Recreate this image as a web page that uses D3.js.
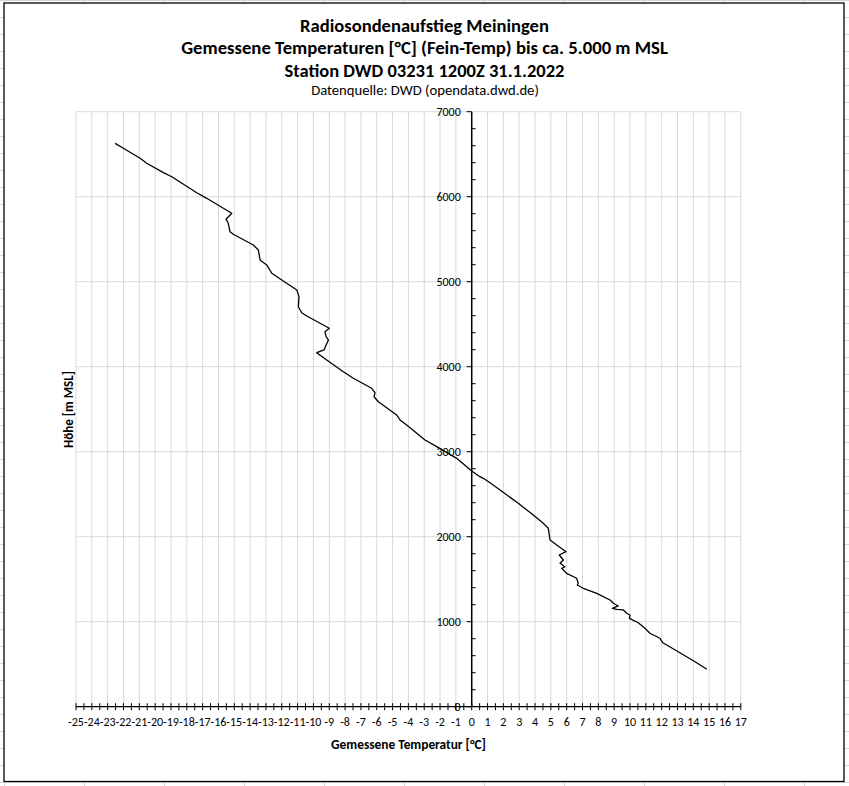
<!DOCTYPE html>
<html><head><meta charset="utf-8">
<script src="https://cdn.jsdelivr.net/npm/d3@7/dist/d3.min.js"></script>
<style>body{margin:0;background:#fff}svg{display:block}</style>
</head><body>
<svg id="c" width="849" height="786"></svg>
<script>
// ---- data ----
const heights = [6628,6570,6452,6393,6283,6235,6047,5981,5864,5805,5734,5687,5588,5558,5432,5373,5255,5197,5099,5020,4902,4824,4706,4635,4597,4452,4412,4353,4314,4255,4197,4165,4079,3941,3864,3746,3694,3647,3588,3432,3373,3314,3138,3059,2922,2773,2706,2687,2635,2549,2393,2255,2158,2099,2020,1961,1902,1824,1785,1726,1687,1647,1628,1569,1511,1452,1432,1393,1334,1255,1217,1185,1158,1146,1138,1099,1079,1040,988,922,864,805,753,726,588,529,440];
const temps = [-22.53,-22.01,-20.95,-20.53,-19.48,-18.95,-17.37,-16.74,-15.69,-15.16,-15.52,-15.38,-15.27,-15.06,-13.80,-13.48,-13.37,-12.95,-12.63,-12.00,-11.05,-10.91,-10.95,-10.74,-10.42,-9.00,-9.27,-9.20,-9.05,-9.20,-9.33,-9.79,-9.16,-8.11,-7.48,-6.32,-6.11,-6.17,-5.90,-4.74,-4.53,-4.11,-2.95,-2.21,-0.95,0.00,0.52,0.73,1.16,1.79,2.94,3.89,4.52,4.84,4.90,4.95,5.37,5.96,5.53,5.79,5.58,5.89,5.69,6.00,6.63,6.73,6.67,7.05,7.90,8.74,8.95,9.26,8.88,9.16,9.58,9.79,10.00,9.96,10.52,10.95,11.26,11.89,12.07,12.32,13.58,14.11,14.85];
const xTickValues = [-25,-24,-23,-22,-21,-20,-19,-18,-17,-16,-15,-14,-13,-12,-11,-10,-9,-8,-7,-6,-5,-4,-3,-2,-1,0,1,2,3,4,5,6,7,8,9,10,11,12,13,14,15,16,17];
const yTickValues = [0,1000,2000,3000,4000,5000,6000,7000];
const titleLines = ["Radiosondenaufstieg Meiningen","Gemessene Temperaturen [°C] (Fein-Temp) bis ca. 5.000 m MSL","Station DWD 03231 1200Z 31.1.2022"];
const subtitle = "Datenquelle: DWD (opendata.dwd.de)";
const xTitle = "Gemessene Temperatur [°C]";
const yTitle = "Höhe [m MSL]";

// ---- drawing ----
const svg = d3.select("#c");
const FONT = "Carlito, 'Liberation Sans', Arial, sans-serif";
const W = 849, H = 786;

// spreadsheet grid behind the chart object
const bg = svg.append("g").attr("stroke", "#d6d6d6").attr("stroke-width", 1);
bg.selectAll("line.col").data(d3.range(0, 11)).join("line")
  .attr("x1", d => 4.5 + 80 * d).attr("x2", d => 4.5 + 80 * d)
  .attr("y1", 0).attr("y2", H);
bg.selectAll("line.row").data(d3.range(-20, 27)).join("line")
  .attr("y1", d => 340.5 + 17 * d).attr("y2", d => 340.5 + 17 * d)
  .attr("x1", 0).attr("x2", W);

// chart frame
svg.append("rect").attr("x", 4).attr("y", 3).attr("width", 840).attr("height", 778.5)
  .attr("fill", "#fff").attr("stroke", "#000").attr("stroke-width", 1.3);

const x = d3.scaleLinear().domain([-25, 17]).range([76, 740.8]);
const y = d3.scaleLinear().domain([0, 7000]).range([706.7, 111.7]);

// gridlines
const grid = svg.append("g").attr("stroke", "#d9d9d9").attr("stroke-width", 1);
grid.selectAll("line.v").data(xTickValues).join("line")
  .attr("x1", d => x(d)).attr("x2", d => x(d)).attr("y1", y(0)).attr("y2", y(7000));
grid.selectAll("line.h").data(yTickValues).join("line")
  .attr("x1", x(-25)).attr("x2", x(17)).attr("y1", d => y(d)).attr("y2", d => y(d));

// x axis (at height 0)
const xAxisG = svg.append("g").attr("transform", `translate(0,${y(0)})`);
xAxisG.append("line").attr("x1", x(-25)).attr("x2", x(17)).attr("stroke", "#000").attr("stroke-width", 1.2);
const halfTicks = d3.range(-50, 35).map(d => d / 2);
xAxisG.selectAll("line.t").data(halfTicks).join("line")
  .attr("x1", d => x(d)).attr("x2", d => x(d)).attr("y1", -3.5).attr("y2", 3.5)
  .attr("stroke", "#000").attr("stroke-width", 1);
xAxisG.selectAll("text").data(xTickValues).join("text")
  .attr("x", d => x(d)).attr("y", 19).attr("text-anchor", "middle")
  .attr("font-family", FONT).attr("font-size", 12).attr("fill", "#000")
  .text(d => d);

// y axis (at temperature 0)
const yAxisG = svg.append("g").attr("transform", `translate(${x(0)},0)`);
yAxisG.append("line").attr("y1", y(0)).attr("y2", y(7000)).attr("stroke", "#000").attr("stroke-width", 1.5);
const minorY = d3.range(0, 7001, 200).filter(d => d % 1000 !== 0);
yAxisG.selectAll("line.mi").data(minorY).join("line")
  .attr("x1", 0).attr("x2", 4).attr("y1", d => y(d)).attr("y2", d => y(d))
  .attr("stroke", "#000").attr("stroke-width", 1);
yAxisG.selectAll("line.ma").data(yTickValues).join("line")
  .attr("x1", -5).attr("x2", 0).attr("y1", d => y(d)).attr("y2", d => y(d))
  .attr("stroke", "#000").attr("stroke-width", 1);
yAxisG.selectAll("text").data(yTickValues).join("text")
  .attr("x", -11).attr("y", d => y(d)).attr("dy", "0.35em").attr("text-anchor", "end")
  .attr("font-family", FONT).attr("font-size", 12).attr("fill", "#000")
  .text(d => d);

// profile line
const pts = temps.map((t, i) => [t, heights[i]]);
svg.append("path").datum(pts)
  .attr("d", d3.line().x(d => x(d[0])).y(d => y(d[1])))
  .attr("fill", "none").attr("stroke", "#000").attr("stroke-width", 1.3)
  .attr("stroke-linejoin", "round");

// text helper that fits a target width
function fitText(sel, target, base) {
  sel.attr("font-size", base);
  const w = sel.node().getComputedTextLength();
  if (w > 0) sel.attr("font-size", base * target / w);
  return sel;
}
const titleY = [31.5, 54, 76.5];
const titleW = [249, 487, 280];
titleLines.forEach((t, i) => {
  const s = svg.append("text").attr("x", 424.5).attr("y", titleY[i]).attr("text-anchor", "middle")
    .attr("font-family", FONT).attr("font-weight", "bold").attr("fill", "#000").text(t);
  fitText(s, titleW[i], 16);
});
fitText(svg.append("text").attr("x", 425).attr("y", 94.5).attr("text-anchor", "middle")
  .attr("font-family", FONT).attr("fill", "#000").text(subtitle), 228, 12);
fitText(svg.append("text").attr("x", 408.5).attr("y", 748.5).attr("text-anchor", "middle")
  .attr("font-family", FONT).attr("font-weight", "bold").attr("fill", "#000").text(xTitle), 155, 12);
fitText(svg.append("text").attr("transform", "translate(72.5,409.5) rotate(-90)").attr("text-anchor", "middle")
  .attr("font-family", FONT).attr("font-weight", "bold").attr("fill", "#000").text(yTitle), 77, 12);
</script>
</body></html>
